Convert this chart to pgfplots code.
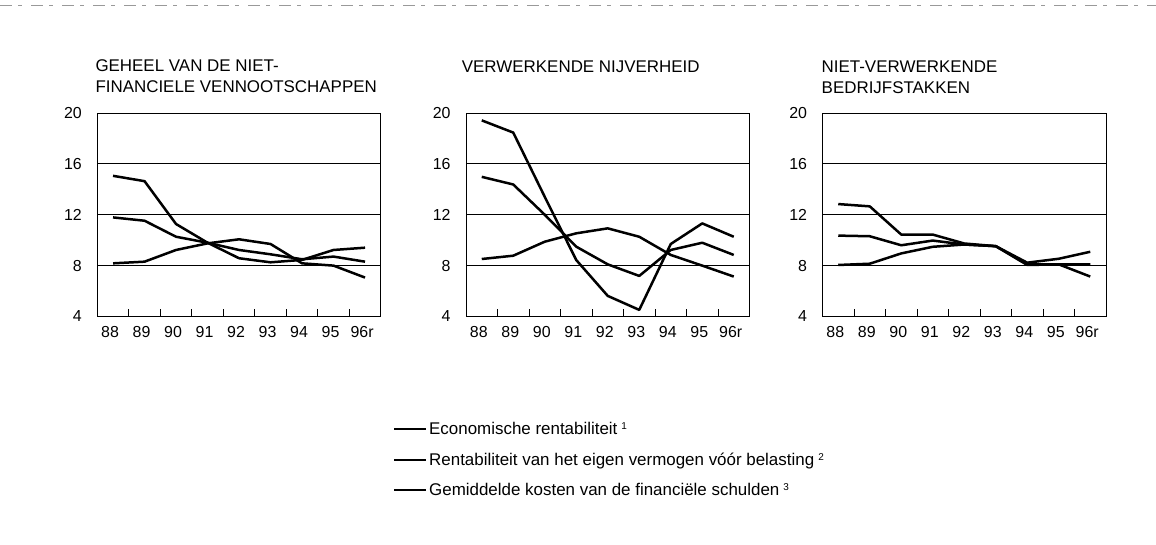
\documentclass[border=0pt]{standalone}
\usepackage{fontspec}
\setmainfont{Liberation Sans}
\usepackage{pgfplots}
\pgfplotsset{compat=1.18}

\newcommand{\fn}[1]{\hspace{4bp}\raisebox{5bp}{\fontsize{10}{10}\selectfont #1}}

\pgfplotsset{
  panel/.style={
    scale only axis, width=283.5bp, height=203.5bp,
    xmin=87.5, xmax=96.5, ymin=4, ymax=20,
    xtick={88,...,96}, xticklabels={88,89,90,91,92,93,94,95,96r},
    minor xtick={88.5,89.5,...,95.5},
    ytick={4,8,12,16,20}, yticklabels={4,8,12,16,20},
    major tick length=0pt, minor tick length=7bp,
    tick align=inside, tick pos=left,
    ymajorgrids, grid style={black, line width=0.8bp},
    axis line style={black, line width=0.9bp},
    tick style={black, line width=0.9bp},
    /pgf/number format/assume math mode=true,
    ticklabel style={font=\fontsize{16}{18}\selectfont},
    xticklabel style={yshift=-6bp, xshift=-3bp},
    yticklabel style={xshift=-12bp},
    title style={at={(axis description cs:0,1)}, anchor=south west, align=left,
                 inner sep=0pt, font=\fontsize{17}{21}\selectfont},
  },
  dat/.style={black, line width=2.5bp, line join=round, mark=none},
}

\begin{document}
\begin{tikzpicture}
\path[use as bounding box] (0bp,0bp) rectangle (1156bp,545bp);
\draw[black!40, line width=0.8bp, dash pattern=on 12bp off 6bp on 4bp off 9bp] (0bp,540bp) -- (1156bp,540bp);

% Panel 1
\begin{axis}[panel, at={(97.3bp,228.5bp)}, anchor=south west,
  title={GEHEEL VAN DE NIET-\\FINANCIELE VENNOOTSCHAPPEN},
  title style={xshift=-2bp, yshift=14bp}]
\addplot[dat] coordinates {(88,11.79) (89,11.53) (90,10.27) (91,9.80) (92,9.23) (93,8.89) (94,8.50) (95,8.71) (96,8.31)};
\addplot[dat] coordinates {(88,15.06) (89,14.64) (90,11.27) (91,9.80) (92,8.58) (93,8.26) (94,8.45) (95,9.23) (96,9.41)};
\addplot[dat] coordinates {(88,8.18) (89,8.31) (90,9.23) (91,9.75) (92,10.07) (93,9.70) (94,8.18) (95,8.00) (96,7.06)};
\end{axis}

% Panel 2
\begin{axis}[panel, at={(466bp,228.5bp)}, anchor=south west,
  title={VERWERKENDE NIJVERHEID},
  title style={xshift=-4.3bp, yshift=34bp},
  legend style={at={(axis description cs:-0.2575,-0.51)}, anchor=north west,
    draw=none, fill=none, inner sep=0pt, row sep=12.5bp,
    font=\fontsize{17}{19}\selectfont,
    /tikz/every even column/.append style={column sep=7bp}},
  legend cell align=left,
  legend image code/.code={\draw[black, line width=2bp] (0bp,0bp) -- (32bp,0bp);}]
\addplot[dat] coordinates {(88,14.98) (89,14.38) (90,12.00) (91,9.49) (92,8.10) (93,7.19) (94,9.23) (95,9.80) (96,8.84)};
\addlegendentry{Economische rentabiliteit\fn{1}}
\addplot[dat] coordinates {(88,19.42) (89,18.46) (90,13.41) (91,8.44) (92,5.62) (93,4.52) (94,9.70) (95,11.32) (96,10.27)};
\addlegendentry{Rentabiliteit van het eigen vermogen vóór belasting\fn{2}}
\addplot[dat] coordinates {(88,8.52) (89,8.78) (90,9.88) (91,10.54) (92,10.93) (93,10.27) (94,8.84) (95,8.00) (96,7.14)};
\addlegendentry{Gemiddelde kosten van de financiële schulden\fn{3}}
\end{axis}

% Panel 3
\begin{axis}[panel, at={(822.5bp,228.5bp)}, anchor=south west,
  title={NIET-VERWERKENDE\\BEDRIJFSTAKKEN},
  title style={xshift=-1bp, yshift=13.5bp}]
\addplot[dat] coordinates {(88,10.36) (89,10.31) (90,9.60) (91,9.97) (92,9.66) (93,9.53) (94,8.10) (95,8.10) (96,8.10)};
\addplot[dat] coordinates {(88,12.84) (89,12.66) (90,10.44) (91,10.44) (92,9.74) (93,9.53) (94,8.23) (95,8.54) (96,9.09)};
\addplot[dat] coordinates {(88,8.05) (89,8.15) (90,8.96) (91,9.48) (92,9.66) (93,9.53) (94,8.05) (95,8.10) (96,7.14)};
\end{axis}
\end{tikzpicture}
\end{document}
